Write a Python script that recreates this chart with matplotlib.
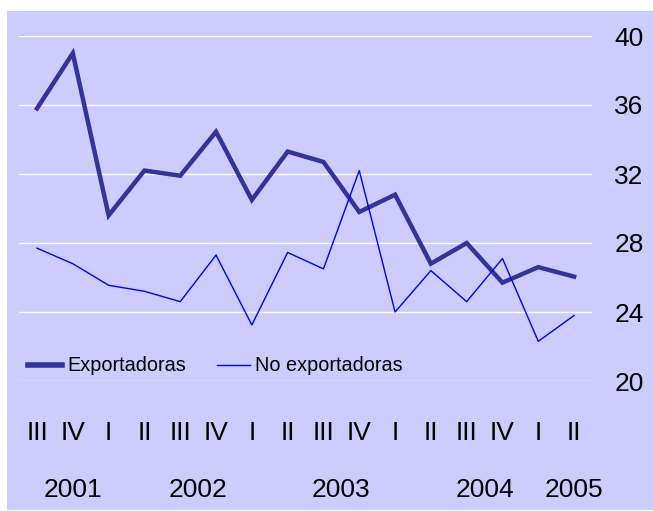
import numpy as np
import matplotlib.pyplot as plt
from matplotlib.patches import Rectangle

plt.rcParams['font.family'] = ['Liberation Sans', 'DejaVu Sans']

quarters = ["III", "IV", "I", "II", "III", "IV", "I", "II",
            "III", "IV", "I", "II", "III", "IV", "I", "II"]
years = ["2001", "2002", "2003", "2004", "2005"]
year_pos = [1, 4.5, 8.5, 12.5, 15]

exportadoras = [35.8, 39.0, 29.6, 32.2, 31.9, 34.45, 30.5, 33.3,
                32.7, 29.8, 30.8, 26.8, 28.0, 25.7, 26.6, 26.05]
no_exportadoras = [27.7, 26.8, 25.55, 25.2, 24.6, 27.3, 23.25, 27.45,
                   26.5, 32.2, 24.0, 26.4, 24.6, 27.1, 22.3, 23.8]

BG = "#CCCCFF"

fig = plt.figure(figsize=(6.53, 5.11), dpi=100)
fig.patch.set_facecolor("white")
# lavender panel behind everything
fig.patches.append(Rectangle((7 / 653, 1 / 511), 1 - 7 / 653, 499 / 511,
                             transform=fig.transFigure, facecolor=BG,
                             edgecolor="none", zorder=-10))

ax = fig.add_axes([19.1 / 653, 130 / 511, 572.9 / 653, 345 / 511])
ax.set_facecolor("none")
x = np.arange(len(quarters))

ax.plot(x, exportadoras, color="#333399", lw=3.2, label="Exportadoras",
        solid_joinstyle="miter", clip_on=False, zorder=3)
ax.plot(x, no_exportadoras, color="#0000FF", lw=1.0, label="No exportadoras",
        clip_on=False, zorder=4)

ax.set_xlim(-0.5, 15.5)
ax.set_ylim(20, 40)
ax.set_yticks([20, 24, 28, 32, 36, 40])
ax.yaxis.tick_right()
ax.tick_params(axis="y", length=0, pad=16, labelsize=19)
ax.grid(axis="y", color="white", lw=1.0)
ax.set_axisbelow(True)
ax.set_xticks([])
for s in ax.spines.values():
    s.set_visible(False)

# quarter labels and year labels below the plot
for i, q in enumerate(quarters):
    ax.annotate(q, xy=(x[i], 0), xycoords=("data", "axes fraction"),
                xytext=(0, -37.5), textcoords="offset points",
                ha="center", va="center", fontsize=19)
for p, yr in zip(year_pos, years):
    ax.annotate(yr, xy=(p, 0), xycoords=("data", "axes fraction"),
                xytext=(0, -78.5), textcoords="offset points",
                ha="center", va="center", fontsize=19)

leg = ax.legend(loc="center left", bbox_to_anchor=(0.016, 0.0435), ncol=2,
                frameon=False, fontsize=14.3, borderpad=0, borderaxespad=0,
                handlelength=1.7, handletextpad=0.25, columnspacing=1.55)
leg.get_lines()[0].set_linewidth(4)

fig.savefig("out.png", dpi=100)
